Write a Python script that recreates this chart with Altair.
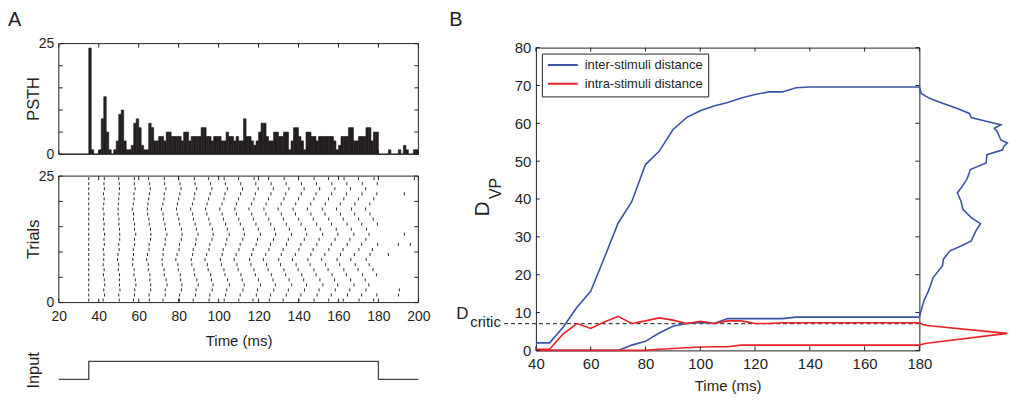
import altair as alt
import pandas as pd

FONT = "Liberation Sans"
INK = "#231f20"
BLUE = "#3a53a4"
RED = "#ec2027"

# ------------------------------------------------------------------
# Panel A data
# ------------------------------------------------------------------
PSTH_T0 = 20.0
PSTH_BIN_MS = 1.25
PSTH_COUNTS = [
    0, 0, 0, 0, 0, 0, 0, 0, 0, 0, 0, 0, 24, 1, 0, 0, 1, 8, 13, 5,
    1, 0, 1, 3, 9, 10, 3, 1, 1, 2, 7, 8, 6, 2, 1, 1, 7, 6, 3, 3,
    4, 4, 3, 5, 5, 4, 4, 4, 4, 3, 5, 5, 3, 4, 4, 4, 4, 6, 6, 4,
    4, 3, 4, 4, 4, 3, 3, 5, 4, 4, 3, 4, 3, 3, 8, 4, 4, 3, 2, 3,
    5, 7, 7, 4, 3, 3, 5, 5, 4, 4, 5, 5, 1, 3, 6, 6, 4, 3, 1, 5,
    5, 4, 4, 3, 4, 4, 4, 4, 4, 4, 3, 1, 2, 4, 4, 4, 6, 6, 3, 3,
    4, 4, 4, 6, 6, 3, 5, 5, 0, 0, 0, 0, 1, 0, 0, 0, 1, 0, 2, 1,
    0, 0, 1, 1,
]

# spike times (ms) for trials 1 (bottom) .. 25 (top)
RASTER_SPIKES = [
    [35, 42.2, 50.3, 57.4, 65.3, 72.2, 80.4, 87.3, 95.2, 102.8, 110.1, 117.2, 125.4, 132.3, 140.2, 147.8, 155.1, 162.4, 170.3, 177.6],
    [35, 42.9, 50.0, 57.9, 65.2, 73.3, 80.5, 88.4, 95.6, 103.5, 110.8, 118.9, 126.0, 133.9, 141.2, 149.3, 156.4, 164.5, 171.6, 179.2],
    [35, 42.5, 50.6, 58.0, 66.0, 73.3, 81.4, 88.7, 96.8, 104.1, 112.2, 119.5, 127.6, 134.9, 143.0, 150.3, 158.4, 165.7, 173.8],
    [35, 43.0, 50.4, 58.6, 66.0, 74.2, 81.6, 89.8, 97.2, 105.4, 112.8, 121.0, 128.4, 136.6, 144.0, 152.2, 159.6, 167.8, 175.2],
    [35, 42.8, 50.3, 58.3, 65.6, 73.7, 81.0, 89.1, 96.4, 104.5, 111.8, 119.9, 127.2, 135.3, 142.6, 150.7, 158.0, 166.1, 173.4],
    [35, 42.4, 50.4, 57.6, 65.6, 72.8, 80.8, 88.0, 96.0, 103.2, 111.2, 118.4, 126.4, 133.6, 141.6, 148.8, 156.8, 164.0, 172.0, 179.0],
    [35, 42.7, 49.8, 57.7, 64.8, 72.7, 79.8, 87.7, 94.8, 102.7, 109.8, 117.7, 124.8, 132.7, 139.8, 147.7, 154.8, 162.7, 169.8, 177.3],
    [35, 42.2, 50.0, 57.0, 64.8, 71.8, 79.6, 86.6, 94.4, 101.4, 109.2, 116.2, 124.0, 131.0, 138.8, 145.8, 153.6, 160.6, 168.4, 175.4],
    [35, 42.5, 49.4, 57.1, 64.0, 71.7, 78.6, 86.3, 93.2, 100.9, 107.8, 115.5, 122.4, 130.1, 137.0, 144.7, 151.6, 159.3, 166.2, 173.9],
    [35, 42.6, 49.6, 57.4, 64.4, 72.2, 79.2, 87.0, 94.0, 101.8, 108.8, 116.6, 123.6, 131.4, 138.4, 146.2, 153.2, 161.0, 168.0, 175.8],
    [35, 42.3, 50.2, 57.3, 65.2, 72.3, 80.2, 87.3, 95.2, 102.3, 110.2, 117.3, 125.2, 132.3, 140.2, 147.3, 155.2, 162.3, 170.2, 177.0],
    [35, 42.8, 50.0, 58.0, 65.2, 73.2, 80.4, 88.4, 95.6, 103.6, 110.8, 118.8, 126.0, 134.0, 141.2, 149.2, 156.4, 164.4, 171.6, 179.6],
    [35, 42.6, 50.5, 57.9, 65.9, 73.3, 81.3, 88.7, 96.7, 104.1, 112.1, 119.5, 127.5, 134.9, 142.9, 150.3, 158.3, 165.7, 173.7],
    [35, 42.9, 50.5, 58.5, 66.1, 74.1, 81.7, 89.7, 97.3, 105.3, 112.9, 120.9, 128.5, 136.5, 144.1, 152.1, 159.7, 167.7, 175.3],
    [35, 42.5, 50.4, 57.9, 65.9, 73.4, 81.4, 88.9, 96.9, 104.4, 112.4, 119.9, 127.9, 135.4, 143.4, 150.9, 158.9, 166.4, 174.0],
    [35, 42.7, 50.1, 57.9, 65.3, 73.1, 80.5, 88.3, 95.7, 103.5, 110.9, 118.7, 126.1, 133.9, 141.3, 149.1, 156.5, 164.3, 171.7, 179.5],
    [35, 42.4, 50.1, 57.4, 65.1, 72.4, 80.1, 87.4, 95.1, 102.4, 110.1, 117.4, 125.1, 132.4, 140.1, 147.4, 155.1, 162.4, 170.1, 177.4],
    [35, 42.6, 49.7, 57.4, 64.5, 72.2, 79.3, 87.0, 94.1, 101.8, 108.9, 116.6, 123.7, 131.4, 138.5, 146.2, 153.3, 161.0, 168.1, 175.8],
    [35, 42.2, 49.7, 56.8, 64.3, 71.4, 78.9, 86.0, 93.5, 100.6, 108.1, 115.2, 122.7, 129.8, 137.3, 144.4, 151.9, 159.0, 166.5, 173.6],
    [35, 42.5, 49.8, 57.3, 64.6, 72.1, 79.4, 86.9, 94.2, 101.7, 109.0, 116.5, 123.8, 131.3, 138.6, 146.1, 153.4, 160.9, 168.2, 175.7],
    [35, 42.7, 50.0, 57.7, 65.0, 72.7, 80.0, 87.7, 95.0, 102.7, 110.0, 117.7, 125.0, 132.7, 140.0, 147.7, 155.0, 162.7, 170.0, 177.7],
    [35, 42.4, 50.2, 57.6, 65.4, 72.8, 80.6, 88.0, 95.8, 103.2, 111.0, 118.4, 126.2, 133.6, 141.4, 148.8, 156.6, 164.0, 171.8, 179.2],
    [35, 42.8, 50.4, 58.2, 65.8, 73.6, 81.2, 89.0, 96.6, 104.4, 112.0, 119.8, 127.4, 135.2, 142.8, 150.6, 158.2, 166.0, 173.6],
    [35, 42.6, 50.3, 57.8, 65.5, 73.0, 80.7, 88.2, 95.9, 103.4, 111.1, 118.6, 126.3, 133.8, 141.5, 149.0, 156.7, 164.2, 171.9, 179.4],
    [35, 42.8, 50.0, 57.8, 65.0, 72.8, 80.0, 87.8, 95.0, 102.8, 110.0, 117.8, 125.0, 132.8, 140.0, 147.8, 155.0, 162.8, 170.0, 177.8],
]
LATE_SPIKE_TRIAL = [25, 22, 14, 12, 12, 10, 3, 2]
LATE_SPIKE_TIME = [198, 193, 193, 190, 196, 185, 190.5, 190]

INPUT_TIME = [20, 35, 35, 180, 180, 200]
INPUT_LEVEL = [0, 0, 1, 1, 0, 0]

A_TIME_TICKS = [20, 40, 60, 80, 100, 120, 140, 160, 180, 200]
A_COUNT_TICKS = [0, 5, 10, 15, 20, 25]
A_COUNT_LABELS = [0, 25]

# ------------------------------------------------------------------
# Panel B data
# ------------------------------------------------------------------
SERIES = ["inter-stimuli distance", "intra-stimuli distance"]
B_TIME = [40, 45, 50, 55, 60, 65, 70, 75, 80, 85, 90, 95, 100, 105, 110,
          115, 120, 125, 130, 135, 140, 145, 150, 155, 160, 165, 170, 175, 180]
INTER_UPPER = [2.0, 2.0, 6.2, 11.4, 15.6, 24.5, 33.6, 39.3, 49.1, 52.6, 58.3, 61.5, 63.3, 64.6, 65.5,
               66.7, 67.6, 68.3, 68.3, 69.4, 69.6, 69.6, 69.6, 69.6, 69.6, 69.6, 69.6, 69.6, 69.6]
INTER_LOWER = [0, 0, 0, 0, 0, 0, 0, 1.4, 2.4, 4.6, 6.4, 7.1, 7.4, 7.1, 8.4,
               8.4, 8.4, 8.4, 8.4, 8.8, 8.8, 8.8, 8.8, 8.8, 8.8, 8.8, 8.8, 8.8, 8.8]
INTRA_UPPER = [0.3, 0.3, 4.4, 7.1, 5.8, 7.5, 9.0, 7.1, 7.8, 8.6, 8.0, 7.1, 7.7, 7.1, 7.8,
               7.8, 7.1, 7.1, 7.3, 7.3, 7.3, 7.3, 7.3, 7.3, 7.3, 7.3, 7.3, 7.3, 7.3]
INTRA_LOWER = [0, 0, 0, 0, 0, 0, 0, 0, 0, 0.3, 0.5, 0.7, 0.9, 0.95, 0.95,
               1.4, 1.4, 1.4, 1.4, 1.4, 1.4, 1.4, 1.4, 1.4, 1.4, 1.4, 1.4, 1.4, 1.4]
D_CRITIC = 7.1
D_CRITIC_FROM = 28.4
B_TIME_TICKS = [40, 60, 80, 100, 120, 140, 160, 180]
B_D_TICKS = [0, 10, 20, 30, 40, 50, 60, 70, 80]

# distributions of the distances (drawn to the right of panel B), density in arbitrary units
DIST_INTER_V = [69.6, 67.9, 66.6, 65.3, 63.9, 62.6, 61.5, 60.6, 59.6, 58.7, 57.8, 55.6, 54.8, 53.9, 53.0,
                51.7, 49.5, 47.8, 46.3, 45.1, 42.9, 41.6, 39.4, 37.3, 35.1, 33.5, 31.6, 28.9, 27.6, 26.3,
                24.1, 22.4, 21.1, 19.3, 15.8, 13.2, 10.6, 8.8]
DIST_INTER_D = [0, 2, 11, 25, 41, 54, 56, 71, 88, 81, 84, 88, 98, 91, 90,
                73, 72, 55, 53, 51, 45, 41, 45, 47, 56, 66, 61, 56, 45, 33,
                26, 25, 21, 15, 10, 5, 2, 0]
DIST_INTRA_V = [7.3, 6.9, 6.6, 4.5, 1.9, 1.6, 1.4]
DIST_INTRA_D = [0, 3, 8, 108, 8, 3, 0]
DIST_VISIBLE_MAX = 95          # densities beyond this run off the figure edge

# ------------------------------------------------------------------
# layout (pixels)
# ------------------------------------------------------------------
A_W, A_H = 361, 256
PSTH_RANGE = [107, -4]
RASTER_RANGE = [256, 129]
INPUT_RANGE = [333, 315]
B_W, B_H = 385, 304
DIST_PX_PER_UNIT = 0.93
TICK_PX = 4


def lin(domain, rng=None):
    kw = dict(domain=domain, nice=False, zero=False)
    if rng is not None:
        kw["range"] = rng
    return alt.Scale(**kw)


def unit_len(domain, npx):
    return TICK_PX * (domain[1] - domain[0]) / npx


def box_ticks(xticks, yticks, xdom, ydom, xscale, yscale, xlen, ylen, xaxis=None, yaxis=None):
    bx = pd.DataFrame({"t": xticks, "a": ydom[0], "b": ydom[0] + ylen})
    tx = pd.DataFrame({"t": xticks, "a": ydom[1] - ylen, "b": ydom[1]})
    ly = pd.DataFrame({"v": yticks, "a": xdom[0], "b": xdom[0] + xlen})
    ry = pd.DataFrame({"v": yticks, "a": xdom[1] - xlen, "b": xdom[1]})
    out = []
    for d in (bx, tx):
        out.append(alt.Chart(d).mark_rule(color=INK, strokeWidth=1).encode(
            x=alt.X("t:Q", scale=xscale, axis=xaxis),
            y=alt.Y("a:Q", scale=yscale, axis=yaxis), y2="b:Q"))
    for d in (ly, ry):
        out.append(alt.Chart(d).mark_rule(color=INK, strokeWidth=1).encode(
            y=alt.Y("v:Q", scale=yscale, axis=yaxis),
            x=alt.X("a:Q", scale=xscale, axis=xaxis), x2="b:Q"))
    return out


def box(xdom, ydom, xscale, yscale, xaxis=None):
    d = pd.DataFrame({"x0": [xdom[0]], "x1": [xdom[1]], "y0": [ydom[0]], "y1": [ydom[1]]})
    return alt.Chart(d).mark_rect(fillOpacity=0, stroke=INK, strokeWidth=1).encode(
        x=alt.X("x0:Q", scale=xscale, axis=xaxis), x2="x1:Q",
        y=alt.Y("y0:Q", scale=yscale, axis=None), y2="y1:Q")


def text_px(txt, x, y, size, angle=0, align="left", baseline="alphabetic"):
    kw = dict(text=txt, fontSize=size, color=INK, align=align, baseline=baseline)
    if angle:
        kw["angle"] = angle
    return alt.Chart(pd.DataFrame({"k": [0]})).mark_text(**kw).encode(
        x=alt.value(x), y=alt.value(y))


def text_at(txt, x, v, yscale, size, angle=0, align="left", baseline="alphabetic", dy=0, yaxis=None):
    kw = dict(text=txt, fontSize=size, color=INK, align=align, baseline=baseline)
    if angle:
        kw["angle"] = angle
    if dy:
        kw["dy"] = dy
    return alt.Chart(pd.DataFrame({"v": [v]})).mark_text(**kw).encode(
        x=alt.value(x), y=alt.Y("v:Q", scale=yscale, axis=yaxis))


# ------------------------------------------------------------------
# Panel A  (one layered chart; PSTH, raster and input each get their own y scale)
# ------------------------------------------------------------------
A_XDOM = [20, 200]
A_YDOM = [0, 25]
XA = lin(A_XDOM)
YP = lin(A_YDOM, PSTH_RANGE)
YR = lin(A_YDOM, RASTER_RANGE)
YI = lin([0, 1], INPUT_RANGE)
a_xlen = unit_len(A_XDOM, A_W)
p_ylen = unit_len(A_YDOM, abs(PSTH_RANGE[0] - PSTH_RANGE[1]))
r_ylen = unit_len(A_YDOM, abs(RASTER_RANGE[0] - RASTER_RANGE[1]))

time_axis_a = alt.Axis(values=A_TIME_TICKS, ticks=False, tickSize=0, domain=False,
                       labelFontSize=14, labelPadding=7, labelColor=INK, labelFlush=False,
                       title="Time (ms)", titleFontSize=15, titleFontWeight="normal",
                       titleColor=INK, titlePadding=10)
count_axis = alt.Axis(values=A_COUNT_LABELS, orient="left", ticks=False, tickSize=0, domain=False,
                      labelFontSize=14, labelPadding=5, labelColor=INK, labelFlush=False, title=None)

n_bins = len(PSTH_COUNTS)
psth_df = pd.DataFrame({
    "start": [PSTH_T0 + i * PSTH_BIN_MS for i in range(n_bins)],
    "end": [PSTH_T0 + (i + 1) * PSTH_BIN_MS for i in range(n_bins)],
    "count": PSTH_COUNTS,
})
psth_bars = alt.Chart(psth_df).mark_rect(color=INK, stroke=INK, strokeWidth=0.6).encode(
    x=alt.X("start:Q", scale=XA, axis=time_axis_a), x2="end:Q",
    y=alt.Y("count:Q", scale=YP, axis=count_axis), y2=alt.Y2(datum=0))

rows = []
for trial, spikes in enumerate(RASTER_SPIKES, start=1):
    for t in spikes:
        rows.append((t, trial))
for trial, t in zip(LATE_SPIKE_TRIAL, LATE_SPIKE_TIME):
    rows.append((t, trial))
raster_df = pd.DataFrame(rows, columns=["t", "trial"])
raster_df["lo"] = raster_df["trial"] - 0.8
raster_df["hi"] = raster_df["trial"] - 0.2

raster = alt.Chart(raster_df).mark_rule(color="#2b2b2b", strokeWidth=1).encode(
    x=alt.X("t:Q", scale=XA, axis=time_axis_a),
    y=alt.Y("lo:Q", scale=YR, axis=count_axis), y2="hi:Q")

input_df = pd.DataFrame({"t": INPUT_TIME, "lvl": INPUT_LEVEL, "i": list(range(len(INPUT_TIME)))})
input_line = alt.Chart(input_df).mark_line(color="#444444", strokeWidth=1.3).encode(
    x=alt.X("t:Q", scale=XA, axis=time_axis_a),
    y=alt.Y("lvl:Q", scale=YI, axis=None),
    order="i:Q")

panel_a_layers = (
    [psth_bars, box(A_XDOM, A_YDOM, XA, YP, time_axis_a)]
    + box_ticks(A_TIME_TICKS, A_COUNT_TICKS, A_XDOM, A_YDOM, XA, YP, a_xlen, p_ylen, xaxis=time_axis_a)
    + [raster, box(A_XDOM, A_YDOM, XA, YR, time_axis_a)]
    + box_ticks(A_TIME_TICKS, A_COUNT_TICKS, A_XDOM, A_YDOM, XA, YR, a_xlen, r_ylen, xaxis=time_axis_a)
    + [input_line,
       text_px("A", -51, -38, 20, baseline="top"),
       text_at("PSTH", -20, 12.5, YP, 16.5, angle=270, align="center"),
       text_at("Trials", -20, 12.5, YR, 16.5, angle=270, align="center"),
       text_at("Input", -20, 0.5, YI, 16.5, angle=270, align="center")]
)
panel_a = alt.layer(*panel_a_layers).resolve_scale(y="independent").properties(
    width=A_W, height=A_H)

# ------------------------------------------------------------------
# Panel B
# ------------------------------------------------------------------
B_XDOM = [40, 180]
B_YDOM = [0, 80]
XB = lin(B_XDOM)
YB = lin(B_YDOM)
b_xlen = unit_len(B_XDOM, B_W)
b_ylen = unit_len(B_YDOM, B_H)
ms_per_px = (B_XDOM[1] - B_XDOM[0]) / B_W

time_axis_b = alt.Axis(values=B_TIME_TICKS, ticks=False, tickSize=0, domain=False,
                       labelFontSize=15, labelPadding=6, labelColor=INK, labelFlush=False,
                       title="Time (ms)", titleFontSize=15, titleFontWeight="normal",
                       titleColor=INK, titlePadding=7)
d_axis = alt.Axis(values=B_D_TICKS, orient="left", ticks=False, tickSize=0, domain=False,
                  labelFontSize=15, labelPadding=5, labelColor=INK, labelFlush=False, title=None)

line_rows = []
for series, curve, vals in [(SERIES[0], "inter_hi", INTER_UPPER), (SERIES[0], "inter_lo", INTER_LOWER),
                            (SERIES[1], "intra_hi", INTRA_UPPER), (SERIES[1], "intra_lo", INTRA_LOWER)]:
    for t, v in zip(B_TIME, vals):
        line_rows.append((t, v, series, curve))
lines_df = pd.DataFrame(line_rows, columns=["t", "v", "series", "curve"])

legend = alt.Legend(orient="none", legendX=6, legendY=6, title=None, symbolType="stroke",
                    symbolSize=900, symbolStrokeWidth=2, clipHeight=13, labelFontSize=13,
                    labelColor=INK, labelOffset=6, rowPadding=4.7, padding=5,
                    strokeColor=INK, fillColor="white", labelLimit=300)

lines = alt.Chart(lines_df).mark_line(strokeWidth=1.6).encode(
    x=alt.X("t:Q", scale=XB, axis=time_axis_b),
    y=alt.Y("v:Q", scale=YB, axis=d_axis),
    color=alt.Color("series:N", scale=alt.Scale(domain=SERIES, range=[BLUE, RED]), legend=legend),
    detail="curve:N")

crit_df = pd.DataFrame({"a": [D_CRITIC_FROM], "b": [B_XDOM[1]], "v": [D_CRITIC]})
crit = alt.Chart(crit_df).mark_rule(color="#444444", strokeWidth=1.3, strokeDash=[4, 3]).encode(
    x=alt.X("a:Q", scale=XB, axis=time_axis_b), x2="b:Q",
    y=alt.Y("v:Q", scale=YB, axis=d_axis))


def dist_layer(vs, ds, color):
    shown = [min(d, DIST_VISIBLE_MAX) for d in ds]
    # the density profile is hung on the right edge (t = 180 ms) of the panel
    xpos = [B_XDOM[1] + d * DIST_PX_PER_UNIT * ms_per_px for d in shown]
    d = pd.DataFrame({"v": vs, "x": xpos, "i": list(range(len(vs)))})
    return alt.Chart(d).mark_line(color=color, strokeWidth=1.6).encode(
        x=alt.X("x:Q", scale=XB, axis=time_axis_b),
        y=alt.Y("v:Q", scale=YB, axis=d_axis),
        order="i:Q")


panel_b_layers = (
    [crit, lines,
     dist_layer(DIST_INTER_V, DIST_INTER_D, BLUE),
     dist_layer(DIST_INTRA_V, DIST_INTRA_D, RED)]
    + box_ticks(B_TIME_TICKS, B_D_TICKS, B_XDOM, B_YDOM, XB, YB, b_xlen, b_ylen,
                xaxis=time_axis_b, yaxis=d_axis)
    + [text_px("B", -87, -38, 20, baseline="top"),
       text_px("D", -47, 162, 21, angle=270, align="center"),
       text_px("VP", -35, 152, 16, angle=270, align="left"),
       text_at("D", -80, D_CRITIC, YB, 17, dy=-5, yaxis=d_axis),
       text_at("critic", -66, D_CRITIC, YB, 15, dy=3, yaxis=d_axis)]
)
panel_b = alt.layer(*panel_b_layers).properties(
    width=B_W, height=B_H, view=alt.ViewBackground(stroke=INK, strokeWidth=1))

chart = alt.hconcat(panel_a, panel_b, spacing=18).resolve_legend(color="independent").properties(
    padding=0).configure(font=FONT).configure_view(stroke=None).configure_axis(grid=False)

chart.save("out.html", embed_options={"renderer": "svg", "actions": False})
